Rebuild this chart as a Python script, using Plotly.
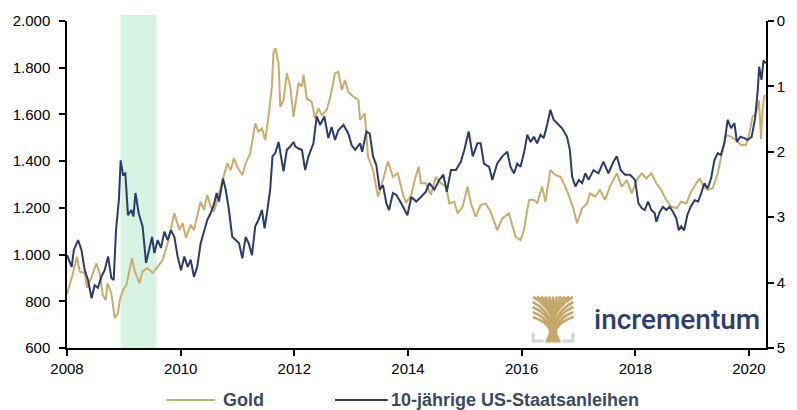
import plotly.graph_objects as go

# ---------------- data ----------------
gold_dates = [
    "2008-01-01", "2008-01-31", "2008-03-05", "2008-03-23", "2008-04-24", "2008-05-09", "2008-06-07",
    "2008-07-08", "2008-07-29", "2008-08-18", "2008-09-07", "2008-09-17", "2008-10-12", "2008-11-03",
    "2008-11-24", "2008-12-05", "2008-12-26", "2009-01-17", "2009-02-22", "2009-03-09", "2009-04-11",
    "2009-04-30", "2009-06-01", "2009-07-04", "2009-08-06", "2009-09-07", "2009-10-09", "2009-11-21",
    "2009-12-23", "2010-01-13", "2010-02-04", "2010-03-06", "2010-03-27", "2010-04-17", "2010-05-09",
    "2010-05-30", "2010-06-21", "2010-07-12", "2010-08-03", "2010-08-24", "2010-10-06", "2010-10-27",
    "2010-11-18", "2010-12-09", "2010-12-30", "2011-02-01", "2011-02-22", "2011-03-24", "2011-04-25",
    "2011-05-16", "2011-06-07", "2011-06-28", "2011-07-19", "2011-08-10", "2011-08-20", "2011-09-01",
    "2011-09-22", "2011-10-03", "2011-10-24", "2011-11-14", "2011-12-06", "2011-12-27", "2012-01-28",
    "2012-02-19", "2012-03-01", "2012-03-21", "2012-04-22", "2012-05-13", "2012-06-04", "2012-06-25",
    "2012-07-27", "2012-08-18", "2012-09-19", "2012-10-10", "2012-11-01", "2012-11-22", "2012-12-13",
    "2013-01-15", "2013-02-16", "2013-02-27", "2013-03-29", "2013-04-19", "2013-05-21", "2013-06-22",
    "2013-07-24", "2013-08-25", "2013-09-26", "2013-10-28", "2013-11-30", "2013-12-20", "2014-01-22",
    "2014-02-13", "2014-03-11", "2014-03-25", "2014-04-26", "2014-05-28", "2014-06-29", "2014-08-01",
    "2014-09-02", "2014-09-24", "2014-10-26", "2014-11-16", "2014-12-18", "2015-01-19", "2015-02-10",
    "2015-03-12", "2015-04-13", "2015-05-15", "2015-06-16", "2015-07-28", "2015-08-30", "2015-10-12",
    "2015-11-23", "2015-12-25", "2016-01-16", "2016-02-18", "2016-03-20", "2016-04-10", "2016-05-12",
    "2016-06-02", "2016-07-04", "2016-08-05", "2016-09-07", "2016-10-08", "2016-11-10", "2016-12-01",
    "2016-12-22", "2017-01-24", "2017-02-25", "2017-03-16", "2017-04-17", "2017-05-19", "2017-06-20",
    "2017-07-22", "2017-09-04", "2017-10-06", "2017-11-07", "2017-12-09", "2018-01-10", "2018-02-11",
    "2018-03-13", "2018-04-14", "2018-05-16", "2018-06-17", "2018-07-19", "2018-08-20", "2018-09-22",
    "2018-10-23", "2018-11-25", "2018-12-26", "2019-01-28", "2019-02-19", "2019-03-10", "2019-04-11",
    "2019-05-13", "2019-06-15", "2019-07-05", "2019-08-07", "2019-09-08", "2019-10-10", "2019-11-11",
    "2019-12-13", "2020-01-04", "2020-01-25", "2020-02-16", "2020-03-06", "2020-03-19", "2020-03-29",
    "2020-04-08", "2020-04-18",
]
gold_values = [
    830, 900, 991, 927, 921, 857, 905,
    962, 921, 827, 805, 877, 835, 728,
    750, 805, 848, 870, 985, 934, 877,
    927, 942, 921, 948, 977, 1049, 1178,
    1105, 1135, 1071, 1127, 1105, 1162, 1226,
    1191, 1255, 1205, 1184, 1234, 1333, 1391,
    1362, 1412, 1376, 1341, 1391, 1433, 1562,
    1526, 1540, 1490, 1590, 1719, 1862, 1883,
    1819, 1633, 1662, 1776, 1719, 1590, 1734,
    1719, 1769, 1669, 1654, 1583, 1626, 1597,
    1619, 1669, 1776, 1783, 1705, 1747, 1697,
    1676, 1662, 1576, 1605, 1419, 1362, 1248,
    1319, 1398, 1333, 1348, 1255, 1222, 1255,
    1319, 1376, 1305, 1305, 1255, 1333, 1305,
    1291, 1219, 1226, 1176, 1205, 1291, 1219,
    1162, 1212, 1219, 1184, 1105, 1155, 1176,
    1076, 1062, 1105, 1234, 1234, 1219, 1291,
    1226, 1362, 1341, 1333, 1291, 1234, 1191,
    1134, 1198, 1219, 1262, 1248, 1276, 1234,
    1291, 1348, 1291, 1319, 1262, 1319, 1348,
    1326, 1348, 1305, 1276, 1234, 1205, 1198,
    1226, 1219, 1269, 1305, 1326, 1298, 1276,
    1284, 1348, 1412, 1512, 1505, 1490, 1469,
    1469, 1519, 1590, 1605, 1660, 1495, 1620,
    1676, 1683,
]

yield_dates = [
    "2008-01-01", "2008-01-31", "2008-02-14", "2008-03-12", "2008-04-03", "2008-04-24", "2008-05-15",
    "2008-06-07", "2008-06-27", "2008-07-18", "2008-08-09", "2008-08-30", "2008-09-21", "2008-10-12",
    "2008-10-27", "2008-11-11", "2008-11-30", "2008-12-11", "2008-12-26", "2009-01-10", "2009-01-27",
    "2009-02-18", "2009-03-03", "2009-03-16", "2009-04-06", "2009-05-01", "2009-05-23", "2009-06-14",
    "2009-07-01", "2009-07-15", "2009-08-06", "2009-08-27", "2009-09-18", "2009-10-09", "2009-10-30",
    "2009-11-21", "2009-12-12", "2010-01-03", "2010-01-24", "2010-02-15", "2010-03-06", "2010-03-27",
    "2010-04-17", "2010-05-09", "2010-05-30", "2010-06-21", "2010-07-12", "2010-08-03", "2010-08-20",
    "2010-09-04", "2010-09-30", "2010-10-17", "2010-11-07", "2010-11-28", "2010-12-20", "2011-01-11",
    "2011-02-01", "2011-02-22", "2011-03-14", "2011-04-04", "2011-04-25", "2011-05-16", "2011-06-07",
    "2011-06-24", "2011-07-09", "2011-07-30", "2011-08-14", "2011-09-01", "2011-09-22", "2011-10-09",
    "2011-10-24", "2011-11-14", "2011-12-06", "2011-12-27", "2012-01-08", "2012-01-28", "2012-02-19",
    "2012-03-11", "2012-04-01", "2012-05-03", "2012-05-24", "2012-06-15", "2012-07-12", "2012-08-07",
    "2012-08-28", "2012-09-19", "2012-10-10", "2012-11-12", "2012-12-13", "2013-01-04", "2013-01-26",
    "2013-02-27", "2013-03-12", "2013-04-09", "2013-04-30", "2013-05-21", "2013-06-11", "2013-07-03",
    "2013-07-24", "2013-08-15", "2013-09-01", "2013-09-26", "2013-10-18", "2013-11-19", "2013-12-28",
    "2014-01-22", "2014-02-23", "2014-03-25", "2014-04-26", "2014-05-18", "2014-06-19", "2014-07-21",
    "2014-08-16", "2014-09-07", "2014-10-04", "2014-11-05", "2014-12-07", "2014-12-29", "2015-01-26",
    "2015-02-21", "2015-03-23", "2015-04-13", "2015-05-04", "2015-06-06", "2015-06-27", "2015-07-28",
    "2015-08-30", "2015-10-01", "2015-10-22", "2015-11-13", "2015-12-04", "2015-12-25", "2016-01-16",
    "2016-02-07", "2016-02-28", "2016-03-20", "2016-04-10", "2016-05-01", "2016-05-22", "2016-06-13",
    "2016-07-04", "2016-07-25", "2016-08-16", "2016-09-17", "2016-10-19", "2016-11-06", "2016-11-21",
    "2016-12-12", "2017-01-03", "2017-01-24", "2017-02-14", "2017-03-06", "2017-04-07", "2017-05-09",
    "2017-06-10", "2017-07-12", "2017-08-13", "2017-09-04", "2017-09-29", "2017-10-27", "2017-11-28",
    "2017-12-30", "2018-01-21", "2018-02-11", "2018-03-03", "2018-03-24", "2018-04-14", "2018-05-06",
    "2018-05-16", "2018-06-07", "2018-06-28", "2018-07-19", "2018-08-10", "2018-09-01", "2018-09-22",
    "2018-10-07", "2018-10-23", "2018-11-11", "2018-12-01", "2018-12-23", "2019-01-17", "2019-02-09",
    "2019-03-01", "2019-03-21", "2019-04-11", "2019-05-03", "2019-05-24", "2019-06-15", "2019-07-05",
    "2019-07-27", "2019-08-18", "2019-09-08", "2019-09-30", "2019-10-16", "2019-11-07", "2019-12-03",
    "2019-12-24", "2020-01-19", "2020-02-10", "2020-02-27", "2020-03-07", "2020-03-22", "2020-04-04",
    "2020-04-18",
]
yield_values = [
    3.58, 3.76, 3.50, 3.35, 3.50, 3.81, 3.96,
    4.24, 4.04, 4.08, 3.91, 3.81, 3.60, 3.93,
    3.96, 3.20, 2.72, 2.13, 2.35, 2.33, 2.97,
    2.89, 2.99, 2.63, 2.94, 3.14, 3.70, 3.50,
    3.30, 3.55, 3.35, 3.47, 3.22, 3.35, 3.20,
    3.30, 3.60, 3.81, 3.60, 3.76, 3.65, 3.91,
    3.76, 3.40, 3.22, 3.04, 2.94, 2.80, 2.63,
    2.76, 2.41, 2.58, 2.89, 3.30, 3.35, 3.40,
    3.63, 3.30, 3.40, 3.58, 3.14, 3.04, 2.89,
    3.17, 2.94, 2.58, 2.07, 2.02, 1.85, 2.07,
    2.30, 1.97, 1.92, 1.85, 1.92, 1.95, 1.97,
    2.28, 2.07, 1.87, 1.46, 1.59, 1.46, 1.79,
    1.62, 1.82, 1.67, 1.59, 1.72, 1.90, 1.97,
    1.87, 2.00, 1.69, 1.72, 2.07, 2.20, 2.58,
    2.51, 2.79, 2.89, 2.63, 2.66, 2.79, 2.97,
    2.69, 2.76, 2.69, 2.61, 2.48, 2.58, 2.43,
    2.35, 2.61, 2.28, 2.28, 2.15, 1.97, 1.69,
    2.07, 1.87, 1.87, 2.18, 2.23, 2.43, 2.18,
    2.07, 2.00, 2.23, 2.33, 2.18, 2.23, 2.02,
    1.74, 1.85, 1.77, 1.87, 1.74, 1.79, 1.59,
    1.36, 1.51, 1.56, 1.64, 1.77, 1.97, 2.38,
    2.53, 2.43, 2.48, 2.33, 2.43, 2.28, 2.33,
    2.15, 2.33, 2.15, 2.07, 2.28, 2.35, 2.35,
    2.43, 2.79, 2.86, 2.89, 2.76, 2.89, 2.94,
    3.07, 2.92, 2.84, 2.89, 2.84, 2.92, 3.02,
    3.20, 3.14, 3.20, 2.97, 2.84, 2.74, 2.76,
    2.63, 2.48, 2.56, 2.41, 2.13, 2.02, 2.05,
    1.87, 1.51, 1.64, 1.56, 1.85, 1.77, 1.79,
    1.82, 1.77, 1.49, 1.06, 0.70, 0.90, 0.60,
    0.65,
]

series_names = ["Gold", "10-jährige US-Staatsanleihen"]
recession_band = ["2008-12-11", "2009-07-28"]
x_tick_dates = ["2008-01-01", "2010-01-01", "2012-01-01", "2014-01-01",
                "2016-01-01", "2018-01-01", "2020-01-01"]
x_tick_labels = ["2008", "2010", "2012", "2014", "2016", "2018", "2020"]
y_left_ticks = [600, 800, 1000, 1200, 1400, 1600, 1800, 2000]
y_left_labels = ["600", "800", "1.000", "1.200", "1.400", "1.600", "1.800", "2.000"]
y_right_ticks = [0, 1, 2, 3, 4, 5]
y_right_labels = ["0", "1", "2", "3", "4", "5"]
logo_text = "incrementum"

# ---------------- styling ----------------
GOLD = "#C9AD6E"
NAVY = "#2B3C6A"
LOGO_GOLD = "#C5A869"
LEG_TXT = "#3B4A5E"
FONT = "Arial, Liberation Sans, sans-serif"

W, H = 797, 410
L, R, T, B = 67, 771, 21, 348  # plot area in pixels


def px(x):
    return (x - L) / (R - L)


def py(y):
    return (B - y) / (B - T)


fig = go.Figure()
fig.add_trace(go.Scatter(x=gold_dates, y=gold_values, name=series_names[0], mode="lines",
                         line=dict(color=GOLD, width=2), yaxis="y", showlegend=False))
fig.add_trace(go.Scatter(x=yield_dates, y=yield_values, name=series_names[1], mode="lines",
                         line=dict(color=NAVY, width=2), yaxis="y2", showlegend=False))

shapes = []
# shaded period
shapes.append(dict(type="rect", xref="x", yref="paper", x0=recession_band[0], x1=recession_band[1],
                   y0=0, y1=py(15), fillcolor="#D6F3E4", line=dict(width=0), layer="below"))

# custom legend
shapes.append(dict(type="line", xref="paper", yref="paper", x0=px(167), x1=px(216),
                   y0=py(400), y1=py(400), line=dict(color=GOLD, width=2)))
shapes.append(dict(type="line", xref="paper", yref="paper", x0=px(337), x1=px(390),
                   y0=py(400), y1=py(400), line=dict(color=NAVY, width=2)))

# logo: tree icon (crown of branches, trunk, gray brackets)
branches = [
    ((556.5, 322), (536.5, 297)), ((556.5, 320), (540.5, 296.5)), ((556.5, 318), (544.5, 296.5)),
    ((556.5, 317), (548.5, 296.5)), ((556.5, 316), (552.5, 296.5)), ((556.5, 316), (556.5, 296.5)),
    ((556.5, 316), (560.5, 296.5)), ((556.5, 317), (564.5, 296.5)), ((556.5, 318), (568.5, 296.5)),
    ((556.5, 320), (572.5, 296.5)), ((556.5, 322), (576.5, 297)),
    ((554, 323), (536, 302)), ((554, 325), (536, 307)), ((553, 327), (536, 312)), ((553, 329), (536, 317)),
    ((559, 323), (577, 302)), ((559, 325), (577, 307)), ((560, 327), (577, 312)), ((560, 329), (577, 317)),
]
for (sx, sy), (ex, ey) in branches:
    cx = sx + (ex - sx) * 0.2
    cy = sy + (ey - sy) * 0.65
    shapes.append(dict(type="path", xref="paper", yref="paper",
                       path=f"M {px(sx)},{py(sy)} Q {px(cx)},{py(cy)} {px(ex)},{py(ey)}",
                       line=dict(color=LOGO_GOLD, width=2.6)))
shapes.append(dict(type="path", xref="paper", yref="paper",
                   path=(f"M {px(549)},{py(342)} L {px(564)},{py(342)} L {px(560.5)},{py(334)} "
                         f"L {px(560)},{py(318)} L {px(553)},{py(318)} L {px(552.5)},{py(334)} Z"),
                   fillcolor=LOGO_GOLD, line=dict(color=LOGO_GOLD, width=1)))
for path in [f"M {px(536.5)},{py(333)} L {px(536.5)},{py(341)} L {px(547)},{py(341)}",
             f"M {px(576.5)},{py(333)} L {px(576.5)},{py(341)} L {px(566)},{py(341)}"]:
    shapes.append(dict(type="path", xref="paper", yref="paper", path=path,
                       line=dict(color="#D4D4D4", width=3)))

annotations = [
    dict(text=f"<b>{series_names[0]}</b>", xref="paper", yref="paper", x=px(222), y=py(400),
         xanchor="left", yanchor="middle", showarrow=False,
         font=dict(family=FONT, size=18, color=LEG_TXT)),
    dict(text=f"<b>{series_names[1]}</b>", xref="paper", yref="paper", x=px(391), y=py(400),
         xanchor="left", yanchor="middle", showarrow=False,
         font=dict(family=FONT, size=18, color=LEG_TXT)),
    dict(text=logo_text, xref="paper", yref="paper", x=px(596), y=py(319),
         xanchor="left", yanchor="middle", showarrow=False,
         font=dict(family="Roboto, Arial, sans-serif", size=28, color="#2E3F6E", weight=500)),
]

axis_common = dict(showgrid=False, zeroline=False, showline=True, linecolor="black", linewidth=1.5,
                   ticks="outside", ticklen=6, tickwidth=1.5, tickcolor="black",
                   tickfont=dict(family=FONT, size=15, color="black"))

fig.update_layout(
    width=W, height=H,
    margin=dict(l=L, r=W - R, t=T, b=H - B),
    paper_bgcolor="white", plot_bgcolor="white",
    showlegend=False,
    xaxis=dict(type="date", range=["2008-01-01", "2020-04-20"], tickvals=x_tick_dates,
               ticktext=x_tick_labels, **axis_common),
    yaxis=dict(range=[600, 2000], tickvals=y_left_ticks, ticktext=y_left_labels,
               ticklabelstandoff=6, **axis_common),
    yaxis2=dict(range=[5, 0], overlaying="y", side="right", tickvals=y_right_ticks,
                ticktext=y_right_labels, ticklabelstandoff=0, **axis_common),
    shapes=shapes,
    annotations=annotations,
)

fig.write_html("out.html", config={"displayModeBar": False},
               post_script="document.body.style.margin='0';document.body.style.overflow='hidden';")
